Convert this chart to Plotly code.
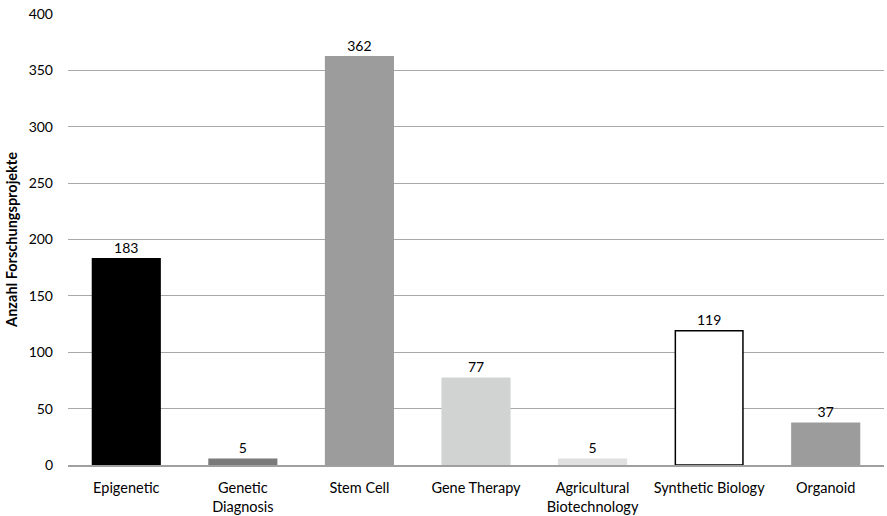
import plotly.graph_objects as go

categories = ["Epigenetic", "Genetic<br>Diagnosis", "Stem Cell", "Gene Therapy",
              "Agricultural<br>Biotechnology", "Synthetic Biology", "Organoid"]
values = [183, 5, 362, 77, 5, 119, 37]
colors = ["#000000", "#7a7a7a", "#9c9c9c", "#d1d3d2", "#e0e0e0", "#ffffff", "#9c9c9c"]
line_colors = ["#000000", "#7a7a7a", "#9c9c9c", "#d1d3d2", "#e0e0e0", "#000000", "#9c9c9c"]
y_ticks = [0, 50, 100, 150, 200, 250, 300, 350, 400]

fig = go.Figure(go.Bar(
    x=categories, y=values,
    marker=dict(color=colors, line=dict(color=line_colors, width=1.5)),
    width=0.58,
    text=[str(v) for v in values], textposition="outside",
    textfont=dict(size=14, color="#000000"),
    cliponaxis=False,
))

fig.update_layout(
    width=887, height=516,
    margin=dict(l=68, r=3, t=13.5, b=50.5),
    plot_bgcolor="#ffffff", paper_bgcolor="#ffffff",
    font=dict(family="Lato, Open Sans, sans-serif", size=14.5, color="#000000"),
    showlegend=False,
)
fig.update_xaxes(showline=True, linecolor="#a0a0a0", linewidth=1.5,
                 ticks="", tickfont=dict(size=14.5), automargin=False,
                 ticklabelstandoff=9)
fig.update_yaxes(range=[0, 400], tickvals=y_ticks, showgrid=True,
                 gridcolor="#a8a8a8", gridwidth=1, zeroline=False,
                 ticks="", tickfont=dict(size=14), ticklabelstandoff=14,
                 automargin=False,
                 title=dict(text="<b>Anzahl Forschungsprojekte</b>",
                            font=dict(size=14.5), standoff=7))

fig.write_html("out.html", config={"displayModeBar": False},
               post_script="document.body.style.margin='0';document.body.style.overflow='hidden';")
